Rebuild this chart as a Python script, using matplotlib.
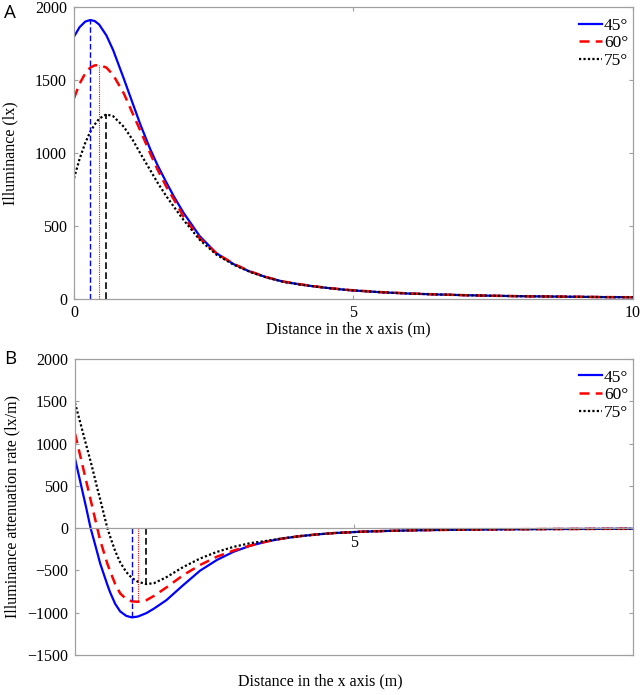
import numpy as np
import matplotlib
matplotlib.use("Agg")
import matplotlib.pyplot as plt

# Panel A: illuminance along the x axis, one series per tilt angle
dist_a = [0, 0.1, 0.2, 0.29, 0.37, 0.45, 0.58, 0.7, 0.89, 1.05, 1.19, 1.36, 1.49, 1.65,
          1.79, 1.96, 2.25, 2.55, 2.85, 3.15, 3.45, 3.74, 4.04, 4.34, 4.64, 4.94, 5.5,
          6, 6.5, 7, 7.5, 8, 8.5, 9, 9.5, 10]
lux_45 = [1797, 1862, 1900, 1911, 1904, 1880, 1805, 1705, 1510, 1340, 1192, 1030, 920, 800,
          700, 590, 430, 313, 240, 187, 148, 119, 100, 84, 71, 60, 46,
          37, 31, 26, 22, 19, 17, 15, 13, 12]
lux_60 = [1375, 1475, 1545, 1585, 1600, 1603, 1585, 1535, 1409, 1270, 1150, 1000, 890, 770,
          680, 564, 415, 312, 242, 189, 149, 120, 101, 85, 72, 61, 47,
          38, 31, 26, 22, 19, 17, 15, 13, 12]
lux_75 = [827, 960, 1068, 1145, 1195, 1235, 1265, 1252, 1180, 1090, 995, 885, 800, 705,
          630, 541, 405, 303, 236, 185, 147, 118, 99, 84, 71, 60, 46,
          37, 31, 26, 22, 19, 17, 15, 13, 12]

# Panel B: attenuation rate (lx/m)
dist_b = [0, 0.1, 0.2, 0.28, 0.33, 0.4, 0.45, 0.58, 0.63, 0.72, 0.81, 0.92, 1.02, 1.13,
          1.28, 1.42, 1.64, 1.94, 2.24, 2.54, 2.84, 3.14, 3.44, 3.73, 4.03, 4.33, 4.63,
          5.11, 5.5, 6, 6.5, 7, 7.5, 8, 8.5, 9, 9.5, 10]
rate_45 = [824, 534, 244, 0, -120, -290, -415, -670, -760, -895, -985, -1038, -1056, -1045,
           -1005, -950, -851, -674, -504, -378, -280, -209, -158, -122, -95, -75, -59,
           -43, -35, -27, -22, -18, -15, -13, -11, -10, -9, -8]
rate_60 = [1119, 840, 560, 335, 195, 0, -140, -420, -510, -660, -772, -840, -866, -871,
           -852, -800, -701, -556, -437, -339, -266, -207, -158, -122, -95, -75, -59,
           -43, -35, -27, -22, -18, -15, -13, -11, -10, -9, -8]
rate_75 = [1481, 1235, 985, 790, 660, 470, 345, 0, -100, -270, -405, -520, -590, -635,
           -662, -650, -580, -460, -360, -282, -222, -178, -150, -120, -95, -75, -59,
           -43, -35, -27, -22, -18, -15, -13, -11, -10, -9, -8]

angles = ["45°", "60°", "75°"]

GREY = "#a0a0a0"
SERIF = "Liberation Serif"


def curve_styles():
    return [
        dict(color="blue", linestyle="-", linewidth=1.6),
        dict(color="red", linestyle=(0, (4, 2.5)), linewidth=1.8),
        dict(color="black", linestyle=(0, (1, 1)), linewidth=1.6),
    ]


def marker_styles():
    # thin vertical lines that mark the extremum of each curve
    return [
        dict(color="blue", linestyle=(0, (4, 2)), linewidth=1.0),
        dict(color="red", linestyle=(0, (1, 1)), linewidth=0.8),
        dict(color="black", linestyle=(0, (4, 2)), linewidth=1.2),
    ]


def style_axes(ax):
    for sp in ax.spines.values():
        sp.set_color(GREY)
        sp.set_linewidth(0.9)
    ax.tick_params(direction="in", length=3, width=0.8, color=GREY,
                   labelsize=11.5, top=True, right=True)
    for lab in ax.get_xticklabels() + ax.get_yticklabels():
        lab.set_family(SERIF)


def add_legend(ax, lines, y_anchor):
    leg = ax.legend(lines, angles, loc="upper right", frameon=False,
                    bbox_to_anchor=(1.01, y_anchor), handlelength=1.3,
                    handletextpad=0.1, labelspacing=0.1, borderaxespad=0.2,
                    prop={"family": SERIF, "size": 12.5})
    return leg


def plot_illuminance(ax):
    series = [lux_45, lux_60, lux_75]
    lines = []
    for y, st in zip(series, curve_styles()):
        ln, = ax.plot(dist_a, y, **st)
        lines.append(ln)
    for y, st in zip(series, marker_styles()):
        i = int(np.argmax(y))
        ax.plot([dist_a[i], dist_a[i]], [0, y[i]], **st)
    ax.set_xlim(0, 10)
    ax.set_ylim(0, 2000)
    ax.set_xticks([0, 5, 10])
    ax.set_yticks([0, 500, 1000, 1500, 2000])
    style_axes(ax)
    ax.tick_params(axis="x", pad=4)
    ax.tick_params(axis="y", pad=5)
    ax.set_xlabel("Distance in the x axis (m)", family=SERIF, fontsize=11.5)
    ax.xaxis.set_label_coords(0.491, -0.078)
    ax.set_ylabel("Illuminance (lx)", family=SERIF, fontsize=11.5)
    ax.yaxis.set_label_coords(-0.099, 0.5)
    add_legend(ax, lines, 1.0)


def plot_rate(ax):
    series = [rate_45, rate_60, rate_75]
    lines = []
    for y, st in zip(series, curve_styles()):
        ln, = ax.plot(dist_b, y, **st)
        lines.append(ln)
    for y, st in zip(series, marker_styles()):
        i = int(np.argmin(y))
        ax.plot([dist_b[i], dist_b[i]], [0, y[i]], **st)
    ax.set_xlim(0, 10)
    ax.set_ylim(-1500, 2000)
    ax.set_xticks([5])
    ax.set_yticks(np.arange(-1500, 2001, 500))
    # x axis crosses at zero, box still closed at the bottom
    ax.spines["bottom"].set_position(("data", 0))
    ax.plot([0, 1], [0, 0], transform=ax.transAxes, color=GREY,
            linewidth=0.9, clip_on=False)
    style_axes(ax)
    ax.tick_params(axis="x", top=False, pad=5)
    ax.tick_params(axis="y", pad=5)
    ax.set_ylabel("Illuminance attenuation rate (lx/m)", family=SERIF, fontsize=11.5)
    ax.yaxis.set_label_coords(-0.098, 0.5)
    add_legend(ax, lines, 1.0)


def main():
    fig = plt.figure(figsize=(6.43, 6.95), dpi=100)
    ax_a = fig.add_axes([0.1151, 0.5698, 0.8693, 0.4201])
    ax_b = fig.add_axes([0.1166, 0.0576, 0.8678, 0.4259])

    plot_illuminance(ax_a)
    plot_rate(ax_b)

    fig.text(320 / 643, 1 - 673 / 695, "Distance in the x axis (m)", family=SERIF,
             fontsize=11.5, ha="center", va="top")
    fig.text(4 / 643, 1 - 4 / 695, "A", family="Open Sans", fontsize=13.5, va="top")
    fig.text(4 / 643, 1 - 350 / 695, "B", family="Open Sans", fontsize=13.5, va="top")

    fig.savefig("out.png", dpi=100)


if __name__ == '__main__':
    main()
